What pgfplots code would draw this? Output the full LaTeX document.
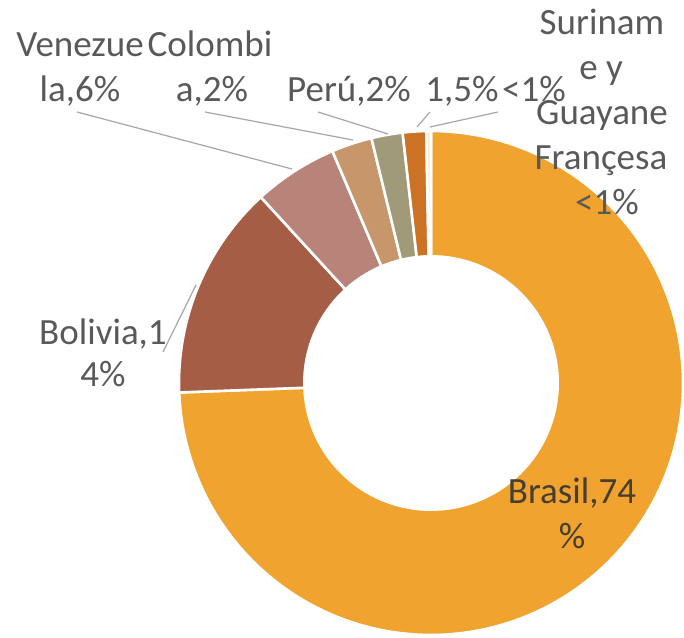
\documentclass[border=0pt]{standalone}
\usepackage{pgfplots}
\pgfplotsset{compat=1.18}
\usepackage{fontspec}
\setmainfont{Carlito}
\definecolor{cBra}{HTML}{F0A32F}
\definecolor{cBol}{HTML}{A65D46}
\definecolor{cVen}{HTML}{B8847A}
\definecolor{cCol}{HTML}{C8966B}
\definecolor{cPer}{HTML}{A09A79}
\definecolor{cOth}{HTML}{CC7224}
\definecolor{cSur}{HTML}{FCEACB}
\definecolor{lbl}{HTML}{595959}
\definecolor{lead}{HTML}{A6A6A6}
% shares (percent), clockwise from 12 o'clock
\def\vBra{74.4}
\def\vBol{13.8}
\def\vVen{5.4}
\def\vCol{2.6}
\def\vPer{2.0}
\def\vOth{1.5}
\def\vSur{0.3}
\begin{document}
\begin{tikzpicture}
\pgfmathsetmacro\cZ{90}
\pgfmathsetmacro\cA{\cZ-3.6*\vBra}
\pgfmathsetmacro\cB{\cA-3.6*\vBol}
\pgfmathsetmacro\cC{\cB-3.6*\vVen}
\pgfmathsetmacro\cD{\cC-3.6*\vCol}
\pgfmathsetmacro\cE{\cD-3.6*\vPer}
\pgfmathsetmacro\cF{\cE-3.6*\vOth}
\pgfmathsetmacro\cG{\cF-3.6*\vSur}
\begin{axis}[
  name=ax,
  scale only axis, width=342pt, height=318.5pt,
  xmin=0, xmax=684, ymin=0, ymax=637,
  hide axis, clip=false,
  every axis plot/.append style={draw=white, line width=1.3pt, samples=120, variable=\t},
]
\addplot[fill=cBra, domain=\cA:\cZ] ({431+252*cos(\t)},{254+252*sin(\t)}) -- (axis cs:431,254) -- cycle;
\addplot[fill=cBol, domain=\cB:\cA] ({431+252*cos(\t)},{254+252*sin(\t)}) -- (axis cs:431,254) -- cycle;
\addplot[fill=cVen, domain=\cC:\cB] ({431+252*cos(\t)},{254+252*sin(\t)}) -- (axis cs:431,254) -- cycle;
\addplot[fill=cCol, domain=\cD:\cC] ({431+252*cos(\t)},{254+252*sin(\t)}) -- (axis cs:431,254) -- cycle;
\addplot[fill=cPer, domain=\cE:\cD] ({431+252*cos(\t)},{254+252*sin(\t)}) -- (axis cs:431,254) -- cycle;
\addplot[fill=cOth, domain=\cF:\cE] ({431+252*cos(\t)},{254+252*sin(\t)}) -- (axis cs:431,254) -- cycle;
\addplot[fill=cSur, domain=\cG:\cF] ({431+252*cos(\t)},{254+252*sin(\t)}) -- (axis cs:431,254) -- cycle;
\addplot[fill=white, draw=none, domain=0:360] ({431+128*cos(\t)},{254+128*sin(\t)}) -- cycle;

% leader lines
\draw[lead, line width=0.6pt] (axis cs:77,525) -- (axis cs:292,468);
\draw[lead, line width=0.6pt] (axis cs:205,525) -- (axis cs:353,497);
\draw[lead, line width=0.6pt] (axis cs:318,525) -- (axis cs:388,503);
\draw[lead, line width=0.6pt] (axis cs:430,525) -- (axis cs:417,510);
\draw[lead, line width=0.6pt] (axis cs:498,525) -- (axis cs:430,510);
\draw[lead, line width=0.6pt] (axis cs:163,285) -- (axis cs:196,352);

\begin{scope}[every node/.style={anchor=base, inner sep=0pt, text=lbl, font=\fontsize{18.5}{22}\selectfont}]
\node at (axis cs:80,580) {Venezue};
\node at (axis cs:80,535) {la,6\%};
\node at (axis cs:210,580) {Colombi};
\node at (axis cs:212,535) {a,2\%};
\node at (axis cs:349,535) {Perú,2\%};
\node at (axis cs:462,535) {1,5\%};
\node at (axis cs:534,535) {<1\%};
\node at (axis cs:602,602) {Surinam};
\node at (axis cs:601,557) {e y};
\node at (axis cs:602,512) {Guayane};
\node at (axis cs:601,467) {Françesa};
\node at (axis cs:607,422) {<1\%};
\node at (axis cs:103,292) {Bolivia,1};
\node at (axis cs:103,250) {4\%};
\node[text=lbl!80!cBra!60!black] at (axis cs:572,134) {Brasil,74};
\node[text=lbl!80!cBra!60!black] at (axis cs:572,89) {\%};
\end{scope}
\end{axis}
\pgfresetboundingbox
\path (ax.south west) rectangle (ax.north east);
\end{tikzpicture}
\end{document}
